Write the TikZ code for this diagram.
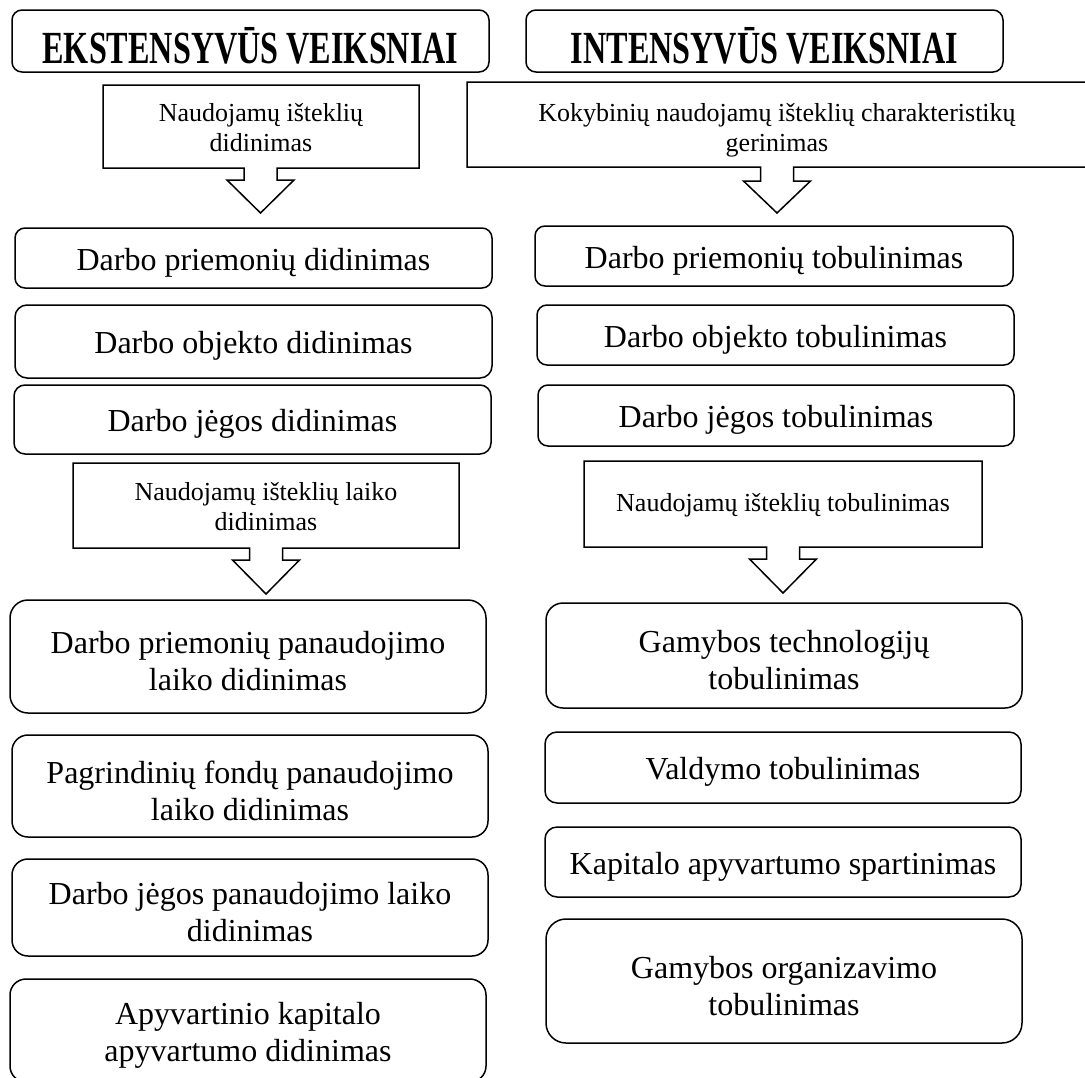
\documentclass[tikz,border=0pt]{standalone}
\usepackage{fontspec}
\setmainfont{Liberation Serif}
\usepackage{graphicx}
\usetikzlibrary{calc}

% taller first line, so two-line texts sit a little lower in their boxes
\newcommand\lift{\rule{0pt}{32pt}}

\tikzset{
  roundbox/.style={draw=black, line width=1.5pt, fill=white, rounded corners=#1,
    inner sep=0pt, align=center, font=\fontsize{32}{37}\selectfont},
  roundbox/.default=10pt,
  % single-line boxes: baseline sits a little below the middle
  oneline/.style={text height=29pt, text depth=5pt},
  headbox/.style={roundbox=10pt, font=\fontsize{46}{50}\selectfont\bfseries,
    text height=46pt, text depth=2pt},
  calltext/.style={inner sep=0pt, align=center, font=\fontsize{26}{30}\selectfont},
  calloutline/.style={draw=black, line width=1.5pt, fill=white, line join=miter},
}

% rectangle callout with a hollow down arrow:
% #1 left, #2 right, #3 top, #4 bottom, #5 arrow axis, #6 end of stem, #7 tip
\newcommand\downcallout[7]{%
  \draw[calloutline] (#1,#3) -- (#2,#3) -- (#2,#4) -- (#5+16.5,#4) -- (#5+16.5,#6)
    -- (#5+33.5,#6) -- (#5,#7) -- (#5-33.5,#6) -- (#5-16.5,#6) -- (#5-16.5,#4)
    -- (#1,#4) -- cycle;}

\begin{document}
\begin{tikzpicture}[x=1pt, y=-1pt]
\useasboundingbox (0,0) rectangle (1085,1077);
\clip (0,0) rectangle (1085,1077);

% ---------- headers ----------
\node[headbox, minimum width=477pt, minimum height=62pt] (hext) at (250.5,41)
  {\scalebox{0.7}[1]{EKSTENSYVŪS VEIKSNIAI}};
\node[headbox, minimum width=477pt, minimum height=62pt] (hint) at (764.5,41)
  {\scalebox{0.7}[1]{INTENSYVŪS VEIKSNIAI}};

% ---------- extensive column ----------
\downcallout{103}{419}{85}{168}{260.5}{180}{213}
\node[calltext] (cext1) at (261,128) {Naudojamų išteklių\\didinimas};

\node[roundbox=10pt, oneline, minimum width=477pt, minimum height=60pt] (e1) at (253.5,258)
  {Darbo priemonių didinimas};
\node[roundbox=12pt, oneline, minimum width=477pt, minimum height=73pt] (e2) at (253.5,341.5)
  {Darbo objekto didinimas};
\node[roundbox=11pt, oneline, minimum width=477pt, minimum height=69pt] (e3) at (252.5,419.5)
  {Darbo jėgos didinimas};

\downcallout{73}{459}{463}{548}{266}{560}{594}
\node[calltext] (cext2) at (266,507) {Naudojamų išteklių laiko\\didinimas};

\node[roundbox=18pt, minimum width=476pt, minimum height=113pt] (e4) at (248,656.5)
  {\lift Darbo priemonių panaudojimo\\laiko didinimas};
\node[roundbox=16pt, minimum width=476pt, minimum height=102pt] (e5) at (250,786)
  {\lift Pagrindinių fondų panaudojimo\\laiko didinimas};
\node[roundbox=16pt, minimum width=476pt, minimum height=97pt] (e6) at (250,907.5)
  {\lift Darbo jėgos panaudojimo laiko\\didinimas};
\node[roundbox=16pt, minimum width=476pt, minimum height=103pt] (e7) at (248,1030.5)
  {\lift Apyvartinio kapitalo\\apyvartumo didinimas};

% ---------- intensive column ----------
\downcallout{467}{1095}{82}{167}{777}{181}{213}
\node[calltext] (cint1) at (777,130) {Kokybinių naudojamų išteklių charakteristikų\\gerinimas};

\node[roundbox=10pt, oneline, minimum width=478pt, minimum height=60pt] (i1) at (774,256)
  {Darbo priemonių tobulinimas};
\node[roundbox=10pt, oneline, minimum width=477pt, minimum height=60pt] (i2) at (775.5,335)
  {Darbo objekto tobulinimas};
\node[roundbox=10pt, oneline, minimum width=476pt, minimum height=61pt] (i3) at (776,415.5)
  {Darbo jėgos tobulinimas};

\downcallout{584}{982}{461}{547}{783}{559}{593}
\node[calltext] (cint2) at (783,505) {Naudojamų išteklių tobulinimas};

\node[roundbox=17pt, minimum width=476pt, minimum height=105pt] (i4) at (784,655.5)
  {\lift Gamybos technologijų\\tobulinimas};
\node[roundbox=12pt, oneline, minimum width=476pt, minimum height=71pt] (i5) at (783,767.5)
  {Valdymo tobulinimas};
\node[roundbox=12pt, oneline, minimum width=476pt, minimum height=70pt] (i6) at (783,862)
  {Kapitalo apyvartumo spartinimas};
\node[roundbox=20pt, minimum width=476pt, minimum height=124pt] (i7) at (784,981)
  {\lift Gamybos organizavimo\\tobulinimas};
\end{tikzpicture}
\end{document}
